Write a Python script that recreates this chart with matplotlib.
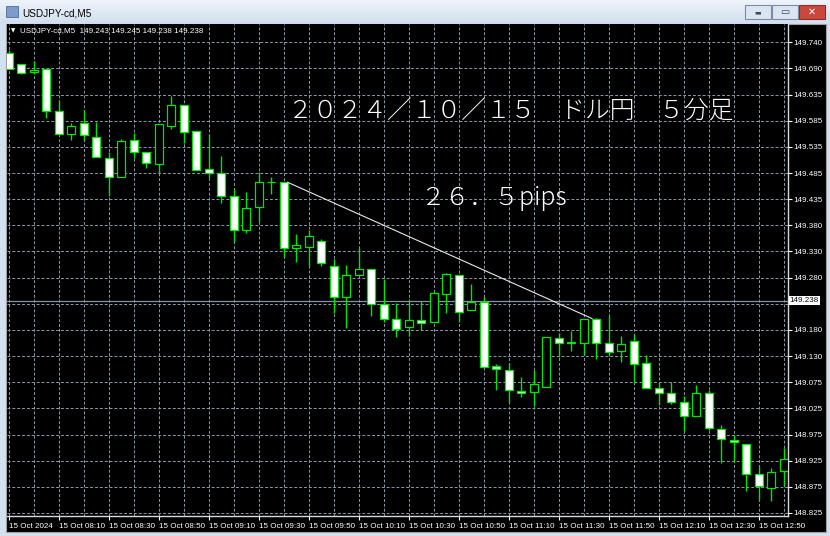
import numpy as np
import matplotlib.pyplot as plt
from matplotlib.patches import Rectangle
from matplotlib.colors import LinearSegmentedColormap
import matplotlib.transforms as mtransforms

plt.rcParams['font.family'] = ['Liberation Sans', 'DejaVu Sans']

# USDJPY M5 candles, 15 Oct 2024 07:50 - 13:00
opens = [149.719, 149.698, 149.682, 149.688, 149.606, 149.562, 149.584, 149.556, 149.516, 149.479,
         149.551, 149.527, 149.503, 149.577, 149.618, 149.568, 149.494, 149.486, 149.442, 149.375,
         149.419, 149.468, 149.468, 149.340, 149.343, 149.354, 149.306, 149.244, 149.287, 149.299,
         149.231, 149.202, 149.186, 149.200, 149.196, 149.251, 149.288, 149.219, 149.236, 149.111,
         149.102, 149.063, 149.060, 149.069, 149.165, 149.157, 149.156, 149.203, 149.155, 149.140,
         149.160, 149.117, 149.067, 149.058, 149.041, 149.014, 149.058, 148.988, 148.967, 148.960,
         148.900, 148.873, 148.907]
highs = [149.725, 149.698, 149.704, 149.688, 149.628, 149.583, 149.608, 149.586, 149.527, 149.553,
         149.563, 149.527, 149.581, 149.636, 149.618, 149.568, 149.561, 149.519, 149.454, 149.449,
         149.488, 149.478, 149.468, 149.367, 149.375, 149.357, 149.319, 149.308, 149.340, 149.299,
         149.280, 149.234, 149.238, 149.238, 149.252, 149.291, 149.288, 149.270, 149.245, 149.114,
         149.116, 149.090, 149.103, 149.167, 149.175, 149.179, 149.203, 149.205, 149.209, 149.169,
         149.172, 149.132, 149.079, 149.079, 149.053, 149.074, 149.065, 148.996, 148.977, 148.960,
         148.916, 148.912, 148.951]
lows = [149.688, 149.678, 149.678, 149.593, 149.561, 149.550, 149.551, 149.518, 149.442, 149.478,
        149.516, 149.496, 149.485, 149.571, 149.544, 149.491, 149.476, 149.427, 149.352, 149.370,
        149.390, 149.445, 149.323, 149.313, 149.306, 149.306, 149.213, 149.184, 149.287, 149.207,
        149.197, 149.168, 149.169, 149.181, 149.196, 149.213, 149.196, 149.219, 149.108, 149.064,
        149.041, 149.051, 149.032, 149.069, 149.128, 149.139, 149.133, 149.124, 149.130, 149.119,
        149.078, 149.067, 149.034, 149.036, 148.985, 149.014, 148.986, 148.922, 148.925, 148.868,
        148.850, 148.849, 148.878]
closes = [149.688, 149.681, 149.686, 149.606, 149.562, 149.578, 149.559, 149.518, 149.479, 149.549,
          149.526, 149.505, 149.581, 149.619, 149.565, 149.492, 149.485, 149.441, 149.375, 149.418,
          149.468, 149.468, 149.340, 149.345, 149.363, 149.310, 149.244, 149.287, 149.300, 149.231,
          149.203, 149.183, 149.200, 149.195, 149.252, 149.289, 149.216, 149.235, 149.108, 149.104,
          149.065, 149.058, 149.075, 149.167, 149.155, 149.155, 149.202, 149.156, 149.137, 149.153,
          149.114, 149.067, 149.058, 149.041, 149.014, 149.058, 148.991, 148.968, 148.963, 148.900,
          148.878, 148.905, 148.930]

time_labels = ['15 Oct 2024', '15 Oct 08:10', '15 Oct 08:30', '15 Oct 08:50', '15 Oct 09:10',
               '15 Oct 09:30', '15 Oct 09:50', '15 Oct 10:10', '15 Oct 10:30', '15 Oct 10:50',
               '15 Oct 11:10', '15 Oct 11:30', '15 Oct 11:50', '15 Oct 12:10', '15 Oct 12:30',
               '15 Oct 12:50']
# the 149.230 label sits under the bid price box, so it is left blank
price_labels = ['148.825', '148.875', '148.925', '148.975', '149.025', '149.075', '149.130',
                '149.180', '', '149.280', '149.330', '149.380', '149.435', '149.485',
                '149.535', '149.585', '149.635', '149.690', '149.740']

bid_price = 149.238
header_ohlc = '149.243 149.245 149.238 149.238'
trend_from, trend_to = 22, 47   # candle indices the trend line joins
title_text = '２０２４／１０／１５　ドル円　５分足'
pips_text = '２６．５pips'

green = '#00e600'
body_w = 0.64
tick_fs = 5.8

fig = plt.figure(figsize=(8.3, 5.36), dpi=100)
fig.patch.set_facecolor('#d3e0f0')

# window chrome, drawn in pixel coordinates
bg = fig.add_axes([0, 0, 1, 1], zorder=0)
bar_cmap = LinearSegmentedColormap.from_list('tb', ['#eef3fa', '#d2dfef'])
bg.imshow(np.linspace(0, 1, 24).reshape(-1, 1), extent=(0, 830, 24, 0), cmap=bar_cmap, aspect='auto')
bg.add_patch(Rectangle((6, 24), 820, 508, facecolor='black', edgecolor='#a0a0a0', lw=0.8))
bg.add_patch(Rectangle((6, 6), 12, 11, facecolor='#7d9ccb', edgecolor='#4d6d9c', lw=0.6))
bg.add_patch(Rectangle((745, 5), 26, 14, facecolor='#dbe5f2', edgecolor='#7a8ba6', lw=0.8))
bg.add_patch(Rectangle((772, 5), 26, 14, facecolor='#dbe5f2', edgecolor='#7a8ba6', lw=0.8))
bg.add_patch(Rectangle((799, 5), 26, 14, facecolor='#c9483d', edgecolor='#8a3028', lw=0.8))
bg.text(758, 12, '▬', fontsize=5, color='#3a4a60', ha='center', va='center', family='DejaVu Sans')
bg.text(785, 12, '▭', fontsize=7, color='#3a4a60', ha='center', va='center', family='DejaVu Sans')
bg.text(812, 12, '✕', fontsize=7, color='white', ha='center', va='center', family='DejaVu Sans',
        weight='bold')
bg.text(22, 13, 'USDJPY-cd,M5', fontsize=7.2, color='black', va='center')
bg.set_xlim(0, 830)
bg.set_ylim(536, 0)
bg.axis('off')

# chart area
ax = fig.add_axes([7 / 830, (536 - 515.7) / 536, 780.5 / 830, 491.7 / 536], zorder=1)
ax.set_facecolor('black')
ax.set_xlim(-0.12, 62.32)
ax.set_ylim(148.8197, 149.7756)
ax.set_axisbelow(True)

x = np.arange(len(opens))
o = np.array(opens)
c = np.array(closes)
fills = ['white' if cl < op else 'black' for op, cl in zip(opens, closes)]

ax.axhline(bid_price, color='#8593a6', lw=0.9, zorder=1.5)
ax.vlines(x, lows, highs, color=green, lw=1, zorder=2)
ax.bar(x, np.abs(c - o), bottom=np.minimum(o, c), width=body_w, color=fills,
       edgecolor=green, linewidth=0.9, zorder=3)

ax.plot([trend_from + body_w / 2, trend_to - body_w / 2], [opens[trend_from], opens[trend_to]],
        color='#e8e8e8', lw=0.8, zorder=4)

# axes styling
ax.yaxis.tick_right()
ax.set_yticks(np.linspace(148.825, 149.740, len(price_labels)))
ax.set_yticklabels(price_labels)
ax.set_xticks(range(0, 61, 4))
ax.set_xticklabels(time_labels, ha='left')
ax.set_xticks(range(0, 63, 2), minor=True)
ax.tick_params(axis='y', colors='white', labelsize=tick_fs, length=3, width=0.8, pad=1.5)
ax.tick_params(axis='x', which='major', colors='white', labelsize=tick_fs, length=3, width=0.8, pad=2)
ax.tick_params(axis='x', which='minor', length=0)
ax.grid(True, which='both', axis='x', color='#8c99ab', lw=0.7, linestyle=(0, (3, 2)))
ax.grid(True, which='major', axis='y', color='#8c99ab', lw=0.7, linestyle=(0, (3, 2)))
for side in ['top', 'left']:
    ax.spines[side].set_visible(False)
for side in ['right', 'bottom']:
    ax.spines[side].set_color('#d8d8d8')
    ax.spines[side].set_linewidth(1)

trans = mtransforms.blended_transform_factory(ax.transAxes, ax.transData)
ax.text(1.003, bid_price, f'{bid_price:.3f}', transform=trans, fontsize=tick_fs, color='black',
        va='center', ha='left', clip_on=False, zorder=6,
        bbox=dict(facecolor='white', edgecolor='none', pad=0.8))

# header line of the chart
fig.text(13.5, 31, '▼', transform=bg.transData, fontsize=4, color='white', ha='center',
         va='center', family='DejaVu Sans')
fig.text(20, 31, 'USDJPY-cd,M5  ' + header_ohlc, transform=bg.transData, fontsize=5.8,
         color='white', va='center')

# annotations
cjk = ['Noto Sans CJK JP', 'DejaVu Sans']
ax.text(0.360, 0.8216, title_text, transform=ax.transAxes, fontsize=17.8, color='white',
        va='center', ha='left', family=cjk, weight='light', zorder=5)
ax.text(0.529, 0.646, pips_text, transform=ax.transAxes, fontsize=17.8, color='white',
        va='center', ha='left', family=cjk, weight='light', zorder=5)

fig.savefig('out.png', dpi=100, facecolor=fig.get_facecolor())
